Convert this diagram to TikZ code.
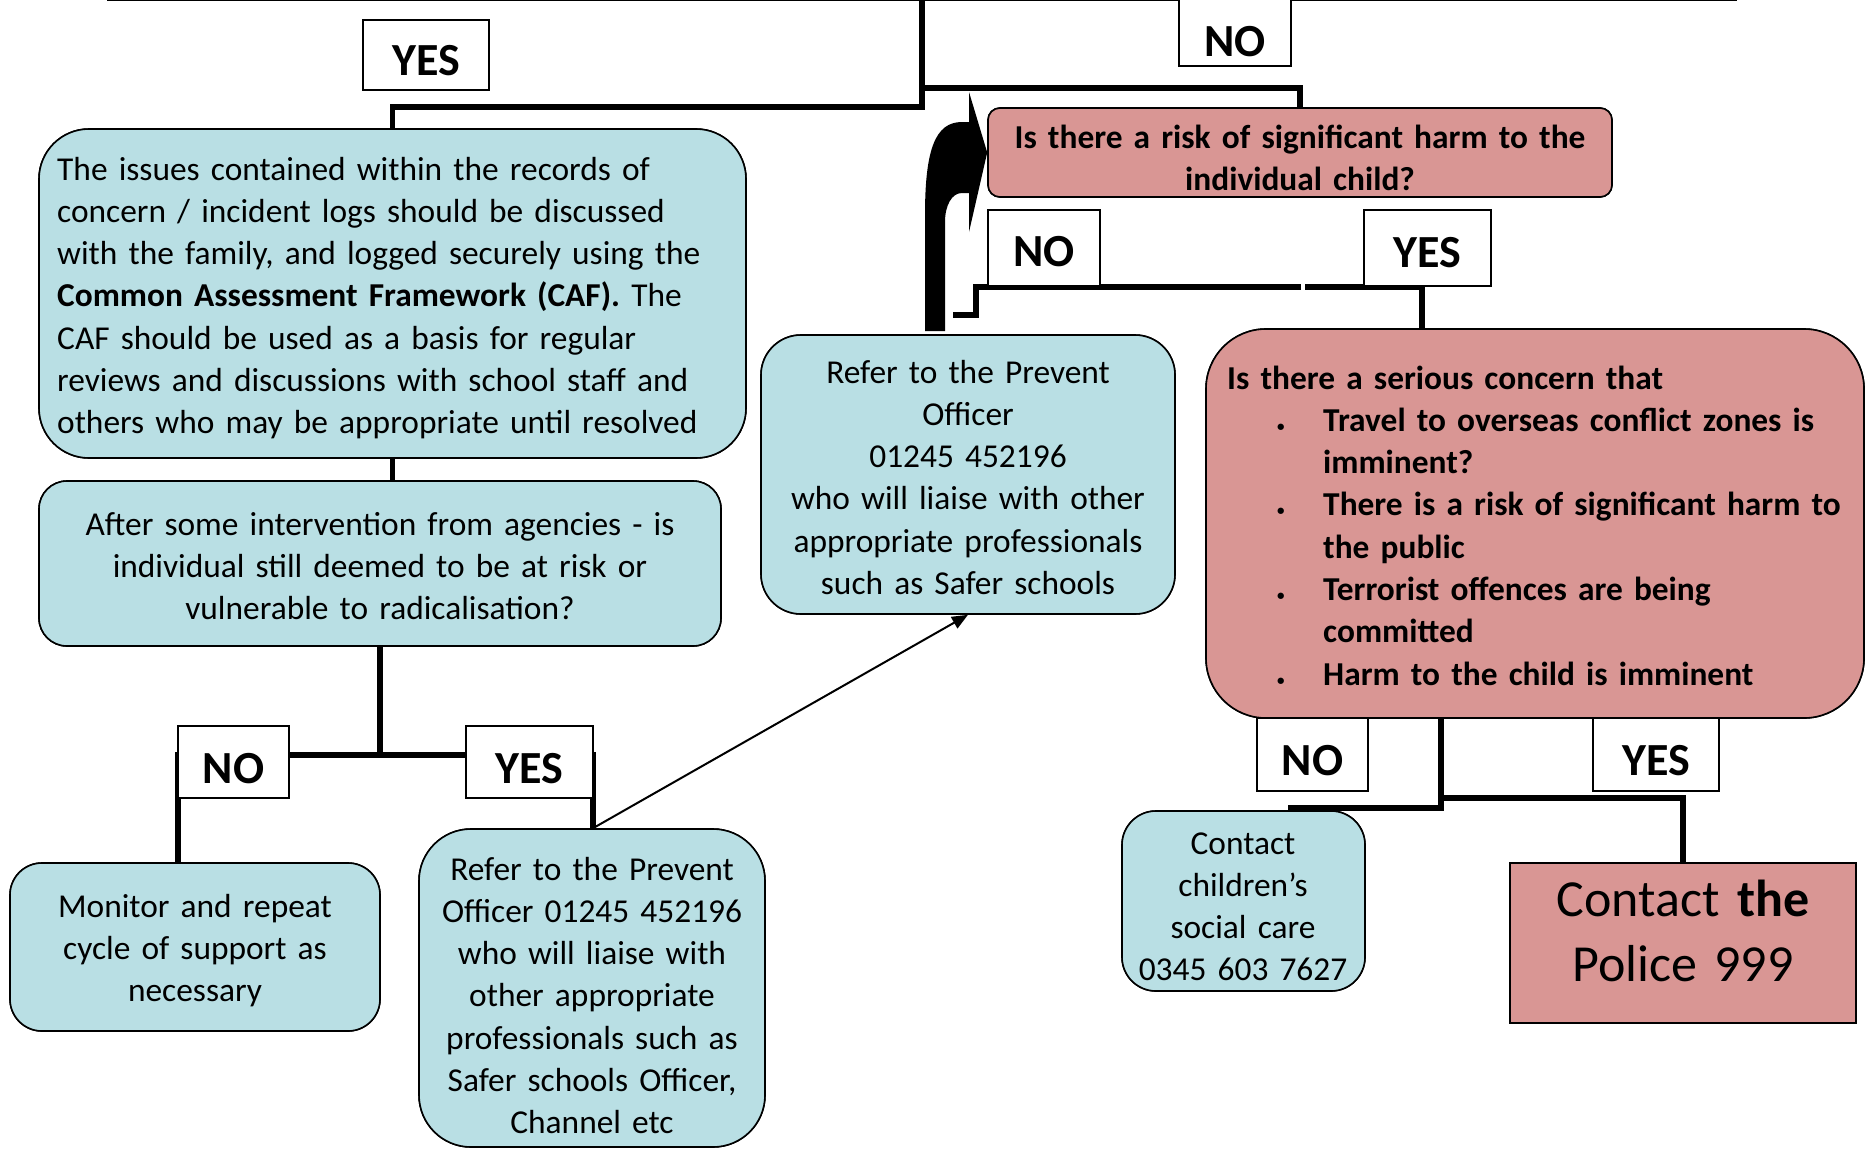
\documentclass[tikz,border=0pt]{standalone}
\usepackage{fontspec}
\setmainfont{Carlito}
\usetikzlibrary{fit,arrows.meta}
\definecolor{boxblue}{RGB}{185,223,228}
\definecolor{boxpink}{RGB}{217,150,148}
\newcommand{\blt}{{\fontsize{15}{15}\selectfont\textbullet}}
\newcommand{\lbl}[2][5pt]{\raisebox{-#1}[\height][0pt]{#2}}
\begin{document}
\begin{tikzpicture}[x=1pt,y=-1pt,
  conn/.style={line width=5.5pt, draw=black},
  thinarrow/.style={line width=2pt, draw=black, -{Triangle[length=16pt,width=13pt]}},
  boxbase/.style={draw=black, line width=1.6pt, inner sep=0pt},
  bluebox/.style={boxbase, fill=boxblue},
  pinkbox/.style={boxbase, fill=boxpink},
  lab/.style={draw=black, line width=1.5pt, fill=white, inner sep=0pt, font=\fontsize{46}{50}\selectfont\bfseries},
  txt/.style={inner sep=0pt, font=\fontsize{33.4}{42.3}\selectfont},
  bigtxt/.style={inner sep=0pt, font=\fontsize{52}{65}\selectfont},
]
\useasboundingbox (0,0) rectangle (1867,1148);
\fill[white] (0,0) rectangle (1867,1148);

% ---------- box geometry (named, used by connectors) ----------
\path
  node[bluebox, rounded corners=50pt, fit={(39,129) (746,458)}] (big) {}
  node[bluebox, rounded corners=28pt, fit={(39,481) (721,646)}] (after) {}
  node[bluebox, rounded corners=40pt, fit={(761,335) (1175,614)}] (prevM) {}
  node[pinkbox, rounded corners=12pt, fit={(988,108) (1612,197)}] (toppink) {}
  node[pinkbox, rounded corners=60pt, fit={(1206,329) (1864,718)}] (serious) {}
  node[bluebox, rounded corners=32pt, fit={(10,863) (380,1031)}] (monitor) {}
  node[bluebox, rounded corners=52pt, fit={(419,829) (765,1147)}] (referB) {}
  node[bluebox, rounded corners=34pt, fit={(1122,811) (1365,991)}] (contact) {}
  node[pinkbox, fit={(1510,863) (1856,1023)}] (police) {};

% ---------- connectors ----------
\coordinate (topL) at (107,0);
\coordinate (topR) at (1737,0);
\coordinate (trunk) at (922,0);
\coordinate (jNo) at (922,88);
\coordinate (jYes) at (922,107);
\draw[line width=3pt] (topL) -- (topR);
\draw[conn] (trunk) -- (jYes) -| (big.north);
\draw[conn] (jNo) -| (toppink.north);
\draw[conn] (big.south) -- (big.south |- after.north);

\coordinate (jBL) at (380,755);
\draw[conn] (after.south) -- (jBL);
\coordinate (noBLx) at (178,755);
\coordinate (yesBLx) at (593,755);
\draw[conn] (jBL) -- (noBLx) -- (noBLx |- monitor.north);
\draw[conn] (jBL) -- (yesBLx) -- (yesBLx |- referB.north);

\coordinate (jM) at (1422,287);
\coordinate (gapR) at (1305,287);
\coordinate (gapL) at (1301,287);
\coordinate (stepA) at (976,287);
\coordinate (stepB) at (976,315);
\coordinate (stepC) at (953,315);
\draw[conn] (jM) -- (gapR);
\draw[conn] (gapL) -- (stepA) -- (stepB) -- (stepC);
\draw[conn] (jM) -- (jM |- serious.north);

\coordinate (jBRx) at (1441,0);
\coordinate (jBRno) at (1441,808);
\coordinate (noBRend) at (1288,808);
\coordinate (jBRyes) at (1441,798);
\draw[conn] (serious.south -| jBRx) -- (jBRno) -- (noBRend);
\draw[conn] (jBRyes) -| (police.north);

% ---------- boxes drawn over the connectors ----------
\node[bluebox, rounded corners=50pt, fit={(39,129) (746,458)}] (bigF) {};
\node[bluebox, rounded corners=28pt, fit={(39,481) (721,646)}] (afterF) {};
\node[bluebox, rounded corners=40pt, fit={(761,335) (1175,614)}] (prevMF) {};
\node[pinkbox, rounded corners=12pt, fit={(988,108) (1612,197)}] (toppinkF) {};
\node[pinkbox, rounded corners=60pt, fit={(1206,329) (1864,718)}] (seriousF) {};
\node[bluebox, rounded corners=32pt, fit={(10,863) (380,1031)}] (monitorF) {};
\node[bluebox, rounded corners=52pt, fit={(419,829) (765,1147)}] (referBF) {};
\node[bluebox, rounded corners=34pt, fit={(1122,811) (1365,991)}] (contactF) {};
\node[pinkbox, fit={(1510,863) (1856,1023)}] (policeF) {};

% ---------- labels ----------
\node[lab, minimum width=126pt, minimum height=70pt] (yesT) at (426,55) {\lbl[5.5pt]{YES}};
\node[lab, minimum width=112pt, minimum height=80pt] (noT) at (1235,26) {\lbl[15pt]{NO}};
\node[lab, minimum width=112pt, minimum height=76pt] (noM) at (1044,248) {\lbl[3.5pt]{NO}};
\node[lab, minimum width=127pt, minimum height=76pt] (yesM) at (1427.5,248) {\lbl[4.5pt]{YES}};
\node[lab, minimum width=111pt, minimum height=72pt] (noBL) at (233.5,762) {\lbl[6pt]{NO}};
\node[lab, minimum width=127pt, minimum height=72pt] (yesBL) at (529.5,762) {\lbl[6.5pt]{YES}};
\node[lab, minimum width=111pt, minimum height=73pt] (noBR) at (1312.5,754.5) {\lbl[6pt]{NO}};
\node[lab, minimum width=126pt, minimum height=73pt] (yesBR) at (1656,754.5) {\lbl[6pt]{YES}};

% ---------- arrows on top ----------
\draw[thinarrow] (yesBLx |- referB.north) -- (prevM.south);
\fill[black] (925,331) -- (925,215) .. controls (925,150) and (935,122) .. (962,122)
  -- (969,122) -- (969,92) -- (toppink.west) -- (969,232) -- (969,193) -- (962,193)
  .. controls (952,193) and (945,205) .. (945,222) -- (945,331) -- cycle;

% ---------- texts ----------
\node[txt, anchor=base west, text width=700pt, align=left] (tBig) at (57,180)
 {The issues contained within the records of\\
  concern / incident logs should be discussed\\
  with the family, and logged securely using the\\
  \textbf{Common Assessment Framework (CAF).} The\\
  CAF should be used as a basis for regular\\
  reviews and discussions with school staff and\\
  others who may be appropriate until resolved};
\node[txt, anchor=base, text width=680pt, align=center] (tAfter) at (380,535)
 {After some intervention from agencies - is\\
  individual still deemed to be at risk or\\
  vulnerable to radicalisation?};
\node[txt, anchor=base, text width=410pt, align=center] (tPrevM) at (968,383)
 {Refer to the Prevent\\ Officer\\ 01245 452196\\ who will liaise with other\\
  appropriate professionals\\ such as Safer schools};
\node[txt, anchor=base, text width=620pt, align=center, font=\fontsize{33.4}{42.3}\selectfont\bfseries] (tTop) at (1300,148)
 {Is there a risk of significant harm to the\\ individual child?};
\node[txt, anchor=base west, text width=660pt, align=left, font=\fontsize{33.4}{42.3}\selectfont\bfseries] (tSerious) at (1227,389)
 {Is there a serious concern that\\
  \hspace*{50pt}\makebox[46pt][l]{\blt}Travel to overseas conflict zones is\\
  \hspace*{96pt}imminent?\\
  \hspace*{50pt}\makebox[46pt][l]{\blt}There is a risk of significant harm to\\
  \hspace*{96pt}the public\\
  \hspace*{50pt}\makebox[46pt][l]{\blt}Terrorist offences are being\\
  \hspace*{96pt}committed\\
  \hspace*{50pt}\makebox[46pt][l]{\blt}Harm to the child is imminent};
\node[txt, anchor=base, text width=360pt, align=center] (tMonitor) at (195,917)
 {Monitor and repeat\\ cycle of support as\\ necessary};
\node[txt, anchor=base, text width=340pt, align=center] (tReferB) at (592,880)
 {Refer to the Prevent\\ Officer 01245 452196\\ who will liaise with\\ other appropriate\\
  professionals such as\\ Safer schools Officer,\\ Channel etc};
\node[txt, anchor=base, text width=240pt, align=center] (tContact) at (1243,854)
 {Contact\\ children’s\\ social care\\ 0345 603 7627};
\node[bigtxt, anchor=base, text width=340pt, align=center] (tPolice) at (1683,916)
 {Contact \textbf{the}\\ Police 999};
\end{tikzpicture}
\end{document}
